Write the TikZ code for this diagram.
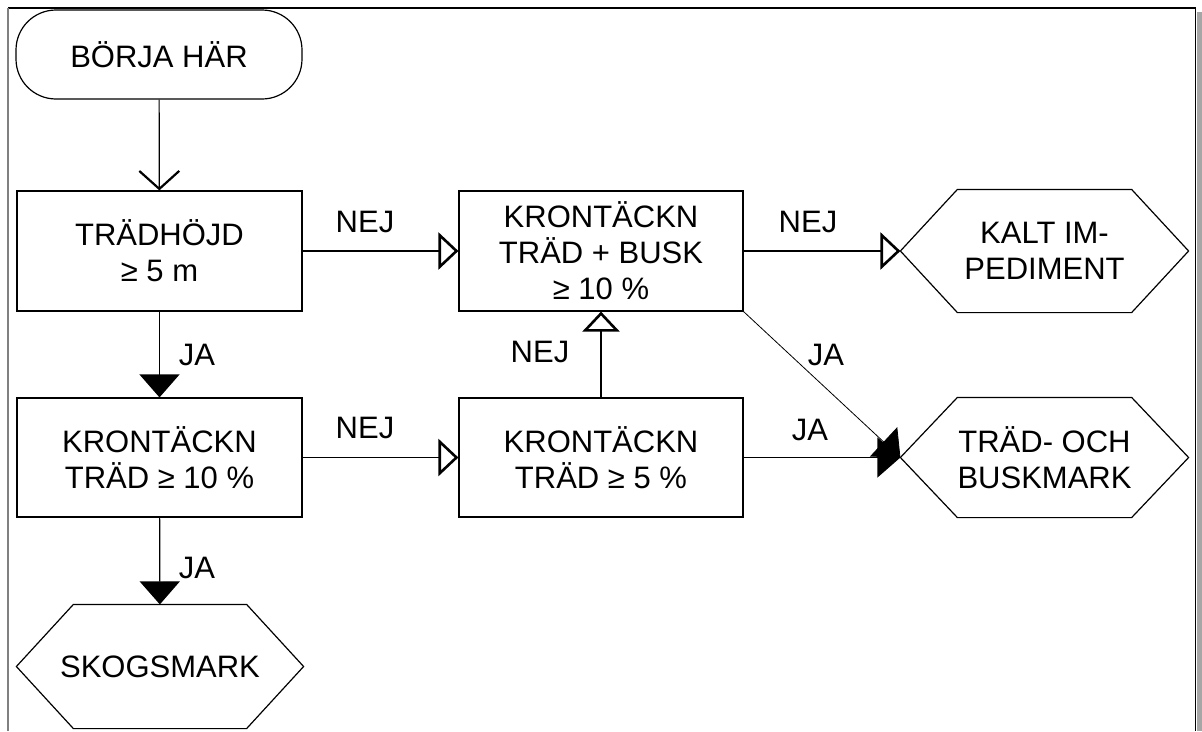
\documentclass[tikz,border=0pt]{standalone}
\usepackage{fontspec}
\setmainfont{Liberation Sans}
\usetikzlibrary{arrows.meta}

\begin{document}
\begin{tikzpicture}[x=1pt,y=-1pt,line width=1.2pt,
  font=\fontsize{31}{36}\selectfont,
  box/.style={draw,minimum width=285pt,minimum height=120pt,align=center,inner sep=0pt},
  hexa/.style={minimum width=287pt,minimum height=122pt,align=center,inner sep=0pt},
  lbl/.style={inner sep=0pt},
  nej/.style={-{Triangle[open,length=20pt,width=37pt,line width=2.6pt]}},
  ja/.style={-{Triangle[length=23pt,width=40pt]}}]
  \useasboundingbox (0,0) rectangle (1202,731);

  % frame
  \draw[black] (8,8) -- (1195.5,8) -- (1195.5,731);
  \draw[gray] (8,8) -- (8,731);
  \fill[gray!70] (1197,12) rectangle (1202,731);

  % left column
  \node[draw,rounded corners=40pt,minimum width=286pt,minimum height=89pt] (start) at (159,54.5) {BÖRJA HÄR};
  \node[box] (hoejd) at (159.5,251) {TRÄDHÖJD\\≥ 5 m};
  \node[box,minimum height=119pt] (kron10) at (159.5,457.5) {KRONTÄCKN\\TRÄD ≥ 10 \%};
  \node[hexa,minimum width=286pt,minimum height=123pt] (skog) at (160,666.5) {SKOGSMARK};

  % middle column
  \node[box,minimum width=284pt] (busk) at (601,251) {KRONTÄCKN\\TRÄD + BUSK\\≥ 10 \%};
  \node[box,minimum width=284pt,minimum height=119pt] (fem) at (601,457.5) {KRONTÄCKN\\TRÄD ≥ 5 \%};

  % right column
  \node[hexa] (kalt) at (1044.5,251) {KALT IM-\\PEDIMENT};
  \node[hexa,minimum height=119pt] (buskm) at (1044.5,457.5) {TRÄD- OCH\\BUSKMARK};
  \foreach \n in {skog,kalt,buskm}
    \draw ([xshift=57pt]\n.north west) -- ([xshift=-57pt]\n.north east) -- (\n.east)
      -- ([xshift=-57pt]\n.south east) -- ([xshift=57pt]\n.south west) -- (\n.west) -- cycle;

  % connectors
  \draw[-{Straight Barb[length=18pt,width=40pt,line width=2.2pt]}] (start) -- (hoejd);
  \draw[ja] (hoejd) -- (kron10);
  \draw[ja] (kron10) -- (skog);
  \draw[nej] (hoejd) -- (busk);
  \draw[nej] (kron10) -- (fem);
  \draw[nej] (busk) -- (kalt);
  \draw[nej] (fem) -- (busk);
  \draw[ja] (fem) -- (buskm);
  \draw[ja,line width=0.8pt] (busk.south east) -- (buskm.west);

  % labels
  \node[lbl] (ja1) at (197,355) {JA};
  \node[lbl] (ja2) at (197,568) {JA};
  \node[lbl] (nej1) at (365,222) {NEJ};
  \node[lbl] (nej2) at (365,428) {NEJ};
  \node[lbl] (nej3) at (540,352) {NEJ};
  \node[lbl] (nej4) at (808,222) {NEJ};
  \node[lbl] (ja3) at (826,355) {JA};
  \node[lbl] (ja4) at (810,430) {JA};
\end{tikzpicture}
\end{document}
